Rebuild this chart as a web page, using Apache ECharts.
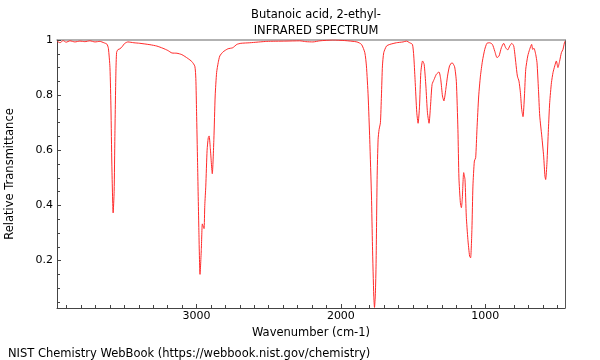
<!DOCTYPE html>
<html>
<head>
<meta charset="utf-8">
<script src="https://cdn.jsdelivr.net/npm/echarts@6/dist/echarts.min.js"></script>
<style>html,body{margin:0;padding:0;background:#fff}#c{width:600px;height:360px}</style>
</head>
<body>
<div id="c"></div>
<script>
// Wavenumbers (cm-1) and relative transmittance
var wavenumbers = [3967,3946,3925,3904,3877,3843,3808,3774,3739,3704,3670,3642,3621,3611,3600,3593,3587,3578,3571,3566,3559,3554,3545,3531,3517,3497,3476,3434,3393,3323,3275,3233,3199,3171,3136,3102,3060,3033,3012,3005,3000,2993,2984,2976,2967,2960,2954,2948,2943,2936,2927,2919,2913,2905,2891,2880,2871,2861,2850,2839,2816,2783,2749,2721,2693,2631,2513,2388,2285,2243,2194,2146,2056,1974,1889,1857,1834,1823,1811,1800,1788,1781,1772,1767,1761,1756,1749,1742,1735,1726,1719,1712,1703,1684,1661,1615,1569,1546,1523,1504,1495,1486,1474,1465,1455,1446,1434,1423,1411,1400,1389,1379,1368,1354,1338,1320,1308,1296,1286,1273,1261,1247,1230,1212,1200,1189,1182,1172,1165,1159,1149,1140,1131,1120,1108,1101,1092,1085,1075,1066,1057,1045,1033,1019,1003,988,969,950,934,918,904,888,872,858,844,830,816,802,788,777,766,756,747,738,728,719,705,692,678,671,662,650,641,631,622,608,595,586,581,572,562,553,541,530,518,507,496,484,472,461,451,448];
var transmittance = [0.996,0.99,0.998,0.992,0.997,0.993,0.996,0.994,0.997,0.993,0.995,0.99,0.985,0.97,0.9,0.75,0.55,0.373,0.45,0.65,0.88,0.955,0.965,0.968,0.975,0.988,0.993,0.99,0.988,0.983,0.978,0.97,0.962,0.953,0.952,0.947,0.933,0.922,0.905,0.86,0.74,0.556,0.31,0.15,0.24,0.333,0.325,0.316,0.4,0.47,0.6,0.645,0.652,0.61,0.515,0.64,0.797,0.882,0.918,0.942,0.957,0.968,0.972,0.984,0.988,0.99,0.995,0.996,0.997,0.994,0.993,0.997,1.0,0.998,0.993,0.984,0.954,0.906,0.797,0.64,0.434,0.252,0.071,0.03,0.08,0.19,0.494,0.64,0.676,0.7,0.797,0.906,0.954,0.978,0.984,0.99,0.993,0.996,0.99,0.984,0.942,0.857,0.736,0.698,0.76,0.882,0.924,0.912,0.833,0.736,0.698,0.76,0.839,0.857,0.876,0.884,0.857,0.797,0.779,0.821,0.869,0.906,0.918,0.903,0.85,0.676,0.5,0.41,0.392,0.422,0.519,0.494,0.361,0.277,0.216,0.21,0.313,0.47,0.561,0.573,0.676,0.797,0.869,0.924,0.966,0.988,0.99,0.984,0.96,0.936,0.942,0.972,0.988,0.972,0.964,0.978,0.988,0.978,0.918,0.869,0.851,0.809,0.748,0.722,0.797,0.894,0.942,0.966,0.984,0.966,0.97,0.948,0.918,0.821,0.724,0.652,0.579,0.506,0.494,0.555,0.676,0.773,0.845,0.882,0.906,0.924,0.9,0.924,0.954,0.966,0.99,0.995];

var xMajorTicks = [1000, 2000, 3000];
var xMinorTicks = [500,600,700,800,900,1100,1200,1300,1400,1500,1600,1700,1800,1900,2100,2200,2300,2400,2500,2600,2700,2800,2900,3100,3200,3300,3400,3500,3600,3700,3800,3900];
var yMajorTicks = [0.2, 0.4, 0.6, 0.8, 1];
var yMinorTicks = [0.05,0.1,0.15,0.25,0.3,0.35,0.45,0.5,0.55,0.65,0.7,0.75,0.85,0.9,0.95];

var X_MIN = 447, X_MAX = 3967, Y_MIN = 0.028, Y_MAX = 1.0;
var FONT = 'DejaVu Sans';

var data = wavenumbers.map(function (w, i) { return [w, transmittance[i]]; });

function xAx(extra) {
  var base = {
    type: 'value', min: X_MIN, max: X_MAX, inverse: true, position: 'bottom',
    splitLine: { show: false },
    axisLine: { show: false, onZero: false },
    axisTick: { show: false },
    axisLabel: { show: false }
  };
  for (var k in extra) base[k] = extra[k];
  return base;
}
function yAx(extra) {
  var base = {
    type: 'value', min: Y_MIN, max: Y_MAX, position: 'left',
    splitLine: { show: false },
    axisLine: { show: false, onZero: false },
    axisTick: { show: false },
    axisLabel: { show: false }
  };
  for (var k in extra) base[k] = extra[k];
  return base;
}

var chart = echarts.init(document.getElementById('c'), null, { renderer: 'canvas' });
chart.setOption({
  animation: false,
  backgroundColor: '#ffffff',
  textStyle: { fontFamily: FONT },
  title: [
    {
      text: 'Butanoic acid, 2-ethyl-\nINFRARED SPECTRUM',
      left: 311, top: 2, textAlign: 'center',
      textStyle: { fontFamily: FONT, fontSize: 11.5, fontWeight: 'normal', color: '#000', lineHeight: 16 }
    },
    {
      text: 'NIST Chemistry WebBook (https://webbook.nist.gov/chemistry)',
      left: 3, top: 341,
      textStyle: { fontFamily: FONT, fontSize: 11.5, fontWeight: 'normal', color: '#000', lineHeight: 16 }
    }
  ],
  grid: { left: 57, right: 35, top: 40, bottom: 52, containLabel: false, outerBoundsMode: 'none' },
  xAxis: [
    xAx({
      name: 'Wavenumber (cm-1)', nameLocation: 'middle', nameGap: 17,
      nameTextStyle: { fontFamily: FONT, fontSize: 11.5, color: '#000' },
      axisLine: { show: true, onZero: false, lineStyle: { color: '#444', width: 1 } },
      axisTick: { show: true, inside: true, length: 4, customValues: xMajorTicks, lineStyle: { color: '#444' } },
      axisLabel: { show: true, customValues: xMajorTicks, margin: 3, fontFamily: FONT, fontSize: 11, color: '#000',
        formatter: function (v) { return String(v); } }
    }),
    xAx({
      axisTick: { show: true, inside: true, length: 3, customValues: xMinorTicks, lineStyle: { color: '#444' } }
    }),
    xAx({
      position: 'top',
      axisLine: { show: true, onZero: false, lineStyle: { color: '#999', width: 1.5 } }
    })
  ],
  yAxis: [
    yAx({
      name: 'Relative Transmittance', nameLocation: 'middle', nameGap: 41, nameRotate: 90,
      nameTextStyle: { fontFamily: FONT, fontSize: 11.5, color: '#000' },
      axisLine: { show: true, onZero: false, lineStyle: { color: '#444', width: 1 } },
      axisTick: { show: true, inside: true, length: 4, customValues: yMajorTicks, lineStyle: { color: '#444' } },
      axisLabel: { show: true, customValues: yMajorTicks, margin: 4, fontFamily: FONT, fontSize: 11, color: '#000',
        formatter: function (v) { return String(v); } }
    }),
    yAx({
      axisTick: { show: true, inside: true, length: 3, customValues: yMinorTicks, lineStyle: { color: '#444' } }
    }),
    yAx({
      position: 'right',
      axisLine: { show: true, onZero: false, lineStyle: { color: '#555', width: 1 } }
    })
  ],
  series: [{
    type: 'line',
    xAxisIndex: 0, yAxisIndex: 0,
    data: data,
    showSymbol: false,
    smooth: 0.2,
    clip: true,
    lineStyle: { color: '#ff2a2a', width: 1 }
  }]
});
</script>
</body>
</html>
